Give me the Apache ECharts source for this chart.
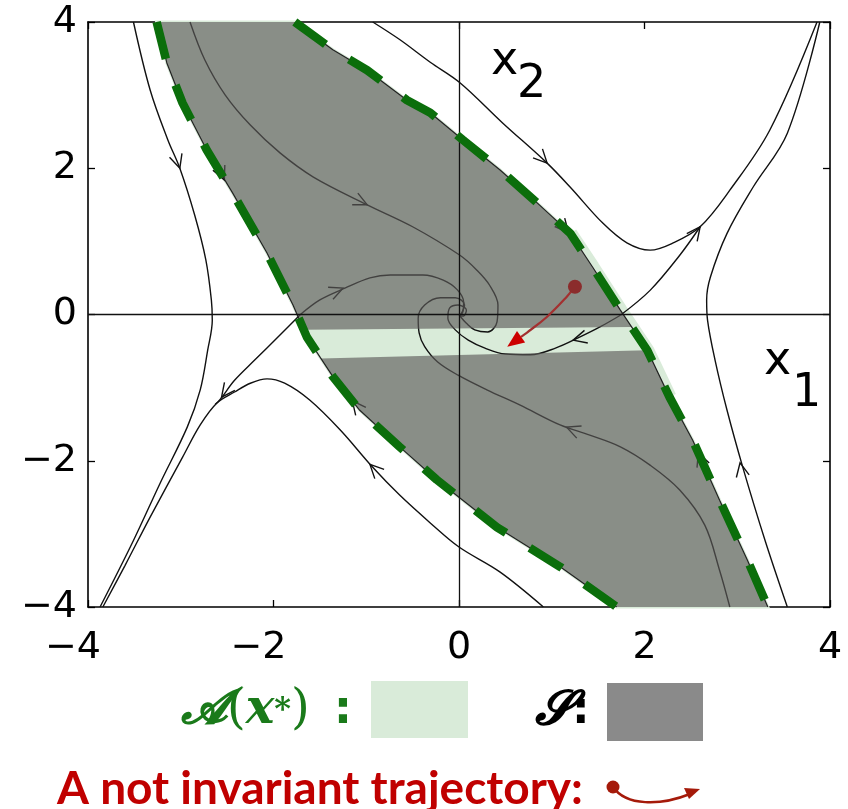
<!DOCTYPE html>
<html><head><meta charset="utf-8">
<script src="https://cdn.jsdelivr.net/npm/echarts@6/dist/echarts.min.js"></script>
<style>html,body{margin:0;padding:0;background:#fff}#c{width:848px;height:809px}</style>
</head><body><div id="c"></div>
<script>
// ---------- tick labels ----------
const ticks = [-4, -2, 0, 2, 4];
const tickLabels = ['−4', '−2', '0', '2', '4'];

// ---------- boundary of S (stable manifolds), top to bottom ----------
const leftBX  = [-3.26, -3.15, -2.98, -2.72, -2.44, -2.07, -1.79, -1.64, -1.36, -1.07, -0.64, -0.24, 0.41, 1.09, 1.70];
const leftBY  = [ 4.00,  3.44,  2.89,  2.25,  1.66,  0.84,  0.13, -0.31, -0.85, -1.31, -1.81, -2.26, -2.91, -3.45, -4.00];
const rightBX = [-1.77, -1.36, -0.99, -0.56, -0.31, 0.04, 0.44, 0.84, 1.20, 1.44, 1.74, 2.03, 2.27, 2.52, 2.81, 3.11, 3.33];
const rightBY = [ 4.00,  3.62,  3.34,  2.93,  2.76, 2.39, 1.98, 1.53, 1.11, 0.65, 0.06, -0.49, -1.13, -1.72, -2.54, -3.36, -4.00];

// ---------- light green band A(x*) edges (left, right) ----------
const bandTopX = [-1.67, 1.86];
const bandTopY = [-0.21, -0.17];
const bandBotX = [-1.49, 2.03];
const bandBotY = [-0.60, -0.49];

// ---------- trajectories ----------
const trajAX = [-3.51, -3.33, -3.14, -3.01, -2.85, -2.73, -2.67, -2.66, -2.71, -2.79, -2.93, -3.22, -3.51, -3.87];
const trajAY = [ 4.00,  3.07,  2.39,  2.00,  1.36,  0.75,  0.20, -0.08, -0.49, -1.03, -1.54, -2.30, -3.09, -4.00];
const trajBX = [-1.71, -1.93, -2.20, -2.42, -2.58, -2.63];
const trajBY = [ 0.00, -0.28, -0.62, -0.90, -1.17, -1.23];
const trajCX = [0.91, 0.44, 0.00, -0.31, -0.64, -0.93, -1.28, -1.61, -1.88, -2.07, -2.25, -2.42, -2.61, -2.79, -2.98, -3.33, -3.60, -3.84];
const trajCY = [-4.00, -3.52, -3.18, -2.85, -2.47, -2.09, -1.58, -1.17, -0.94, -0.88, -0.94, -1.06, -1.21, -1.51, -1.95, -2.77, -3.43, -4.00];
const trajDX = [-2.90, -2.74, -2.52, -2.25, -1.93, -1.57, -0.99, -0.50, 0.01, 0.19, 0.33, 0.42, 0.41, 0.31, 0.17, 0.08, 0.01];
const trajDY = [ 4.00,  3.48,  3.00,  2.59,  2.21,  1.88,  1.50,  1.20, 0.81, 0.61, 0.40, 0.13, -0.10, -0.24, -0.21, -0.12, -0.02];
const trajEX = [-1.71, -1.50, -1.23, -0.96, -0.74, -0.39, -0.17, -0.02, 0.05, 0.04, 0.00];
const trajEY = [ 0.00,  0.20,  0.36,  0.50,  0.54,  0.54,  0.47,  0.34, 0.17, 0.03, -0.02];
const trajFX = [1.74, 1.52, 1.30, 1.04, 0.77, 0.50, 0.28, 0.10, -0.04, -0.12, -0.10, -0.01, 0.08, 0.05, 0.01];
const trajFY = [-0.01, -0.17, -0.31, -0.46, -0.55, -0.54, -0.46, -0.35, -0.21, -0.05, 0.09, 0.13, 0.06, -0.02, -0.02];
const trajGX = [0.01, 0.06, -0.04, -0.20, -0.37, -0.44, -0.43, -0.37, -0.23, -0.01, 0.30, 0.66, 1.09, 1.41, 1.74, 2.06, 2.38, 2.65, 2.81, 2.92];
const trajGY = [-0.02, 0.13, 0.23, 0.23, 0.13, -0.05, -0.25, -0.44, -0.65, -0.83, -1.03, -1.24, -1.51, -1.65, -1.81, -2.06, -2.40, -2.88, -3.50, -4.00];
const trajHX = [-0.93, -0.64, -0.31, 0.01, 0.47, 0.95, 1.20, 1.55, 1.81, 2.06, 2.31, 2.60, 2.92, 3.35, 3.86];
const trajHY = [ 4.00,  3.76,  3.45, 3.17, 2.62, 2.07, 1.74, 1.25, 0.98, 0.88, 0.98, 1.20, 1.70, 2.52, 4.00];
const trajJX = [1.74, 2.06, 2.38, 2.60];
const trajJY = [-0.01, 0.33, 0.81, 1.20];
const trajIX = [3.54, 3.30, 3.06, 2.89, 2.76, 2.68, 2.67, 2.71, 2.89, 3.17, 3.54, 3.89];
const trajIY = [-4.00, -3.09, -2.09, -1.31, -0.62, -0.08, 0.20, 0.51, 1.11, 1.74, 2.48, 4.00];

// ---------- arrowheads on trajectories: position and direction ----------
const arrowX  = [-3.01, -2.53, -0.99, -1.25, 0.95, 1.18, 2.60, 1.23, 1.16, 2.58, 3.03, -0.96, -1.15, -2.56];
const arrowY  = [ 2.00,  1.84,  1.50,  0.36, 2.07, 1.12, 1.20, -0.35, -1.54, -1.89, -2.03, -2.05, -1.18, -1.13];
const arrowDX = [ 0.16,  0.28,  0.49,  0.27, 0.25, 0.30, 0.30, -0.30, -0.40, -0.15, -0.13, -0.35, -0.29, -0.16];
const arrowDY = [-0.64, -0.80, -0.30,  0.14, -0.33, -0.45, 0.50, -0.10, 0.20, 0.50, 0.80, 0.45, 0.46, -0.27];

// ---------- the non-invariant (red) trajectory ----------
const redX = [1.25, 1.16, 0.95, 0.73, 0.52];
const redY = [0.38, 0.24, -0.03, -0.25, -0.44];

// ================= build =================
const zip = (xs, ys) => xs.map((x, i) => [x, ys[i]]);
const leftB = zip(leftBX, leftBY), rightB = zip(rightBX, rightBY);
const regionA = leftB.concat(rightB.slice().reverse());
const grayUpper = [[bandTopX[0], bandTopY[0]]]
  .concat(leftB.filter(p => p[1] > bandTopY[0]).reverse())
  .concat(rightB.filter(p => p[1] > bandTopY[1]))
  .concat([[bandTopX[1], bandTopY[1]]]);
const grayLower = [[bandBotX[0], bandBotY[0]], [bandBotX[1], bandBotY[1]]]
  .concat(rightB.filter(p => p[1] < bandBotY[1]))
  .concat(leftB.filter(p => p[1] < bandBotY[0]).reverse());
const haloRight = rightB.filter(p => p[1] < 1.3 && p[1] > -1.6);

const FONT = 'DejaVu Sans';
const GRAY = 'rgba(94,92,91,0.65)';
const lab = v => tickLabels[ticks.indexOf(v)] || '';

function axis(pos, showLabel, isX) {
  const a = {
    type: 'value', min: -4, max: 4, interval: 2, position: pos,
    axisLine: { onZero: false, lineStyle: { color: '#000', width: 1.6 } },
    axisTick: { inside: true, length: 7, lineStyle: { color: '#000', width: 1.3 } },
    splitLine: { show: false },
    axisLabel: { show: showLabel }
  };
  if (showLabel) {
    if (isX) {
      a.axisLabel = {
        show: true, margin: 22,
        formatter: v => { const s = lab(v); return s.charAt(0) === '−' ? '{n|' + s + '}' : '{p|' + s + '}'; },
        rich: {
          n: { fontSize: 38, fontFamily: FONT, color: '#000', padding: [0, 30, 0, 0] },
          p: { fontSize: 38, fontFamily: FONT, color: '#000' }
        }
      };
    } else {
      a.axisLabel = { show: true, margin: 11, fontSize: 38, fontFamily: FONT, color: '#000', formatter: v => lab(v) };
    }
  }
  return a;
}

const lineStyleOut = { color: '#111', width: 1.4 };
function traj(xs, ys, extra) {
  return Object.assign({
    type: 'line', data: zip(xs, ys), smooth: 0.35, showSymbol: false, symbol: 'none',
    lineStyle: lineStyleOut, z: 2, silent: true, animation: false
  }, extra || {});
}

const series = [
  // region A(x*) (light green), drawn underneath
  { type: 'custom', coordinateSystem: 'cartesian2d', data: [[0, 0]], z: 1, silent: true, animation: false,
    renderItem: (p, api) => ({ type: 'polygon', shape: { points: regionA.map(q => api.coord(q)) },
      style: { fill: '#d9ebd9', stroke: '#d9ebd9', lineWidth: 3 } }) },
  { type: 'line', data: haloRight, showSymbol: false, symbol: 'none', z: 1, silent: true, animation: false,
    lineStyle: { color: '#d9ebd9', width: 14 } },
  traj(trajAX, trajAY, {
    markLine: { silent: true, symbol: 'none', label: { show: false }, animation: false,
      lineStyle: { color: '#111', width: 1.3, type: 'solid' }, data: [{ xAxis: 0 }, { yAxis: 0 }] }
  }),
  traj(trajBX, trajBY), traj(trajCX, trajCY), traj(trajDX, trajDY), traj(trajEX, trajEY),
  traj(trajFX, trajFY), traj(trajGX, trajGY), traj(trajHX, trajHY), traj(trajJX, trajJY), traj(trajIX, trajIY),
  // arrowheads
  { type: 'custom', coordinateSystem: 'cartesian2d', z: 2, silent: true, animation: false,
    data: arrowX.map((x, i) => [x, arrowY[i], arrowDX[i], arrowDY[i]]),
    renderItem: (p, api) => {
      const x = api.value(0), y = api.value(1), dx = api.value(2), dy = api.value(3);
      const a = api.coord([x, y]), b = api.coord([x + dx * 0.05, y + dy * 0.05]);
      const ang = Math.atan2(b[1] - a[1], b[0] - a[0]);
      const L = 15, th = 0.45;
      const p1 = [a[0] - L * Math.cos(ang - th), a[1] - L * Math.sin(ang - th)];
      const p2 = [a[0] - L * Math.cos(ang + th), a[1] - L * Math.sin(ang + th)];
      return { type: 'polyline', shape: { points: [p1, a, p2] }, style: { stroke: '#111', lineWidth: 1.4, fill: null } };
    } },
  // S (gray, semi-transparent over trajectories)
  { type: 'custom', coordinateSystem: 'cartesian2d', data: [[0, 0]], z: 3, silent: true, animation: false,
    renderItem: (p, api) => ({ type: 'group', children: [
      { type: 'polygon', shape: { points: grayUpper.map(q => api.coord(q)) }, style: { fill: GRAY } },
      { type: 'polygon', shape: { points: grayLower.map(q => api.coord(q)) }, style: { fill: GRAY } }
    ] }) },
  // thin trajectory lines on the boundary
  { type: 'line', data: leftB, showSymbol: false, symbol: 'none', lineStyle: { color: '#222', width: 1.2 }, z: 4, silent: true, animation: false },
  { type: 'line', data: rightB, showSymbol: false, symbol: 'none', lineStyle: { color: '#222', width: 1.2 }, z: 4, silent: true, animation: false },
  // dashed green boundary of A(x*)
  { type: 'line', data: leftB, showSymbol: false, symbol: 'none', z: 5, silent: true, animation: false,
    lineStyle: { color: '#0b6e0b', width: 8.5, type: [38, 28], cap: 'butt' } },
  { type: 'line', data: rightB, showSymbol: false, symbol: 'none', z: 5, silent: true, animation: false,
    lineStyle: { color: '#0b6e0b', width: 8.5, type: [38, 28], cap: 'butt' } },
  // red non-invariant trajectory
  { type: 'custom', coordinateSystem: 'cartesian2d', data: [[redX[0], redY[0]]], z: 6, silent: true, animation: false,
    renderItem: (p, api) => {
      const pts = zip(redX, redY).map(q => api.coord(q));
      const n = pts.length, e = pts[n - 1], s = pts[n - 2];
      const ang = Math.atan2(e[1] - s[1], e[0] - s[0]);
      const L = 17, W = 7;
      const base = [e[0] - L * Math.cos(ang), e[1] - L * Math.sin(ang)];
      const line = pts.slice(0, n - 1).concat([base]);
      const nx = -Math.sin(ang), ny = Math.cos(ang);
      return { type: 'group', children: [
        { type: 'polyline', shape: { points: line, smooth: 0.4 }, style: { stroke: '#a33030', lineWidth: 2.2, fill: null } },
        { type: 'polygon', shape: { points: [e, [base[0] + W * nx, base[1] + W * ny], [base[0] - W * nx, base[1] - W * ny]] }, style: { fill: '#cc0000' } },
        { type: 'circle', shape: { cx: pts[0][0], cy: pts[0][1], r: 7 }, style: { fill: '#8b2c2c' } }
      ] };
    } }
];

const G = '#1a7a1a';
const chart = echarts.init(document.getElementById('c'), null, { renderer: 'canvas' });
chart.setOption({
  animation: false,
  backgroundColor: '#fff',
  grid: { left: 88, top: 22, width: 742, height: 585, containLabel: false },
  xAxis: [axis('bottom', true, true), axis('top', false, true)],
  yAxis: [axis('left', true, false), axis('right', false, false)],
  series: series,
  graphic: [
    { type: 'text', x: 491, y: 62, silent: true, style: { text: 'x', fontSize: 46, fontFamily: FONT, fill: '#000', align: 'left', verticalAlign: 'middle' } },
    { type: 'text', x: 517, y: 85, silent: true, style: { text: '2', fontSize: 46, fontFamily: FONT, fill: '#000', align: 'left', verticalAlign: 'middle' } },
    { type: 'text', x: 764, y: 362, silent: true, style: { text: 'x', fontSize: 46, fontFamily: FONT, fill: '#000', align: 'left', verticalAlign: 'middle' } },
    { type: 'text', x: 792, y: 394, silent: true, style: { text: '1', fontSize: 46, fontFamily: FONT, fill: '#000', align: 'left', verticalAlign: 'middle' } },
    // legend
    { type: 'text', x: 181, y: 711, silent: true, style: {
      text: '{a|𝓐}{b|(}{c|x}{d|*}{b|)}{e|:}', align: 'left', verticalAlign: 'middle', fill: G,
      rich: {
        a: { fontSize: 48, fontFamily: 'DejaVu Serif', fontWeight: 'bold', fontStyle: 'italic', fill: G },
        b: { fontSize: 48, fontFamily: 'DejaVu Serif', fill: G },
        c: { fontSize: 48, fontFamily: 'DejaVu Serif', fontWeight: 'bold', fontStyle: 'italic', fill: G },
        d: { fontSize: 32, fontFamily: 'DejaVu Serif', fontWeight: 'bold', fill: G },
        e: { fontSize: 46, fontFamily: 'DejaVu Sans', fontWeight: 'bold', fill: G, padding: [0, 0, 0, 24] }
      } } },
    { type: 'rect', silent: true, shape: { x: 371, y: 681, width: 97, height: 57 }, style: { fill: '#d9ebd9' } },
    { type: 'text', x: 535, y: 712, silent: true, style: {
      text: '{a|𝓢}{e|:}', align: 'left', verticalAlign: 'middle', fill: '#000',
      rich: {
        a: { fontSize: 48, fontFamily: 'DejaVu Serif', fontWeight: 'bold', fontStyle: 'italic', fill: '#000' },
        e: { fontSize: 44, fontFamily: 'DejaVu Sans', fontWeight: 'bold', fill: '#000' }
      } } },
    { type: 'rect', silent: true, shape: { x: 607, y: 683, width: 96, height: 58 }, style: { fill: '#8a8a8a' } },
    { type: 'text', x: 57, y: 789, silent: true, style: { text: 'A not invariant trajectory:', fontSize: 46, fontFamily: 'Lato', fontWeight: 'bold', fill: '#c00000', align: 'left', verticalAlign: 'middle' } },
    { type: 'circle', silent: true, shape: { cx: 613, cy: 787, r: 6.5 }, style: { fill: '#a51a0a' } },
    { type: 'bezierCurve', silent: true, shape: { x1: 613, y1: 787, cpx1: 626, cpy1: 806, cpx2: 660, cpy2: 806, x2: 690, y2: 794 }, style: { stroke: '#a51a0a', lineWidth: 2.5, fill: null } },
    { type: 'polygon', silent: true, shape: { points: [[700, 789], [684, 788], [689, 799]] }, style: { fill: '#a51a0a' } }
  ]
});
</script>
</body></html>
